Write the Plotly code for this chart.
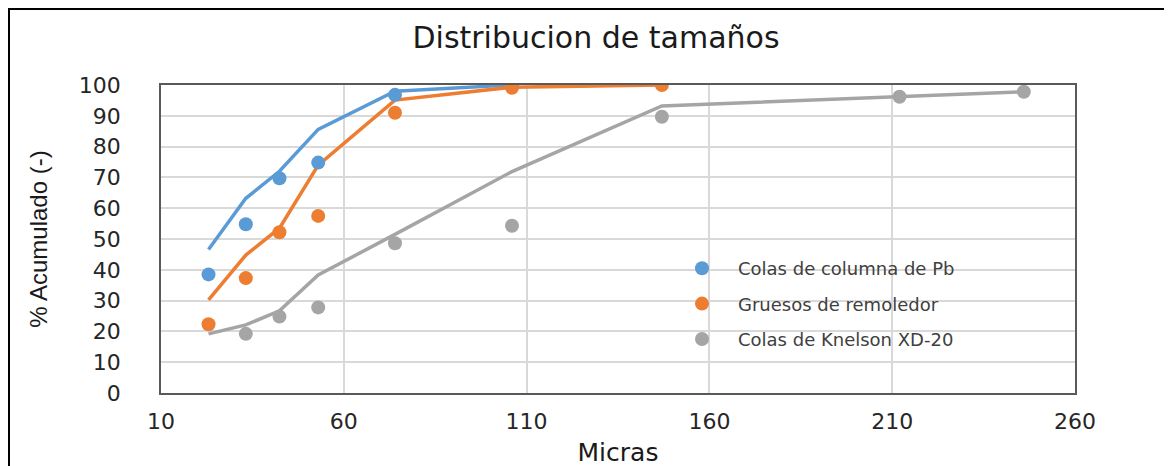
import plotly.graph_objects as go

# Blue: Colas de columna de Pb
pb_x_pts = [23, 33.2, 42.4, 53, 74, 106]
pb_y_pts = [38.5, 54.8, 69.7, 74.8, 96.8, 99.8]
pb_x_line = [23, 33.2, 42.4, 53, 74, 106]
pb_y_line = [46.6, 63.2, 72.0, 85.6, 98.0, 100.0]

# Orange: Gruesos de remoledor
gr_x_pts = [23, 33.2, 42.4, 53, 74, 106, 147]
gr_y_pts = [22.3, 37.3, 52.2, 57.5, 91.0, 99.1, 100.0]
gr_x_line = [23, 33.2, 42.4, 53, 74, 106, 147]
gr_y_line = [30.2, 44.8, 53.5, 74.0, 95.1, 99.3, 100.0]

# Gray: Colas de Knelson XD-20
kn_x_pts = [33.2, 42.4, 53, 74, 106, 147, 212, 246]
kn_y_pts = [19.2, 24.8, 27.8, 48.6, 54.3, 89.7, 96.2, 97.8]
kn_x_line = [23, 33.2, 42.4, 53, 74, 106, 147, 212, 246]
kn_y_line = [19.2, 22.1, 26.7, 38.3, 51.5, 71.9, 93.2, 96.4, 97.8]

names = ["Colas de columna de Pb", "Gruesos de remoledor", "Colas de Knelson XD-20"]
colors = ["#5B9BD5", "#ED7D31", "#A5A5A5"]

x_ticks = [10, 60, 110, 160, 210, 260]
y_ticks = [0, 10, 20, 30, 40, 50, 60, 70, 80, 90, 100]

fig = go.Figure()

lines = [(pb_x_line, pb_y_line), (gr_x_line, gr_y_line), (kn_x_line, kn_y_line)]
pts = [(pb_x_pts, pb_y_pts), (gr_x_pts, gr_y_pts), (kn_x_pts, kn_y_pts)]

for (lx, ly), c in zip(lines, colors):
    fig.add_trace(go.Scatter(x=lx, y=ly, mode="lines", line=dict(color=c, width=3.5),
                             showlegend=False, hoverinfo="skip"))

for i, ((px, py), c, n) in enumerate(zip(pts, colors, names)):
    fig.add_trace(go.Scatter(x=px, y=py, mode="markers", name=n,
                             marker=dict(color=c, size=14), legendgroup=f"g{i}"))

# page offset (body margin) compensation: figure coords = screen coords - 8
OFF = 8
W, H = 1172, 466
L, R, T, B = 161 - OFF, 1075 - OFF, 85 - OFF, 393 - OFF
PW, PH = R - L, B - T

fig.update_layout(
    width=W, height=H,
    margin=dict(l=L, r=W - R, t=T, b=H - B, autoexpand=False),
    paper_bgcolor="white", plot_bgcolor="white",
    font=dict(family="DejaVu Sans", color="#262626"),
    title=dict(text="Distribucion de tamaños", x=(596 - OFF) / W, xanchor="center",
               y=1 - (37 - OFF) / H, yanchor="middle",
               font=dict(family="DejaVu Sans", size=30, color="#1a1a1a")),
    legend=dict(x=(666 - OFF - L) / PW, y=1 - (250 - OFF - T) / PH, xanchor="left", yanchor="top",
                bgcolor="rgba(0,0,0,0)", tracegroupgap=9,
                font=dict(family="DejaVu Sans", size=18, color="#404040"),
                itemwidth=62),
    showlegend=True,
)

fig.update_xaxes(range=[10, 260], tickvals=x_ticks, showgrid=True, gridcolor="#D9D9D9",
                 gridwidth=1.5, zeroline=False, showline=True, linecolor="#595959",
                 linewidth=1.5, mirror=True, ticks="", ticklabelstandoff=8,
                 automargin=False,
                 tickfont=dict(size=22, color="#262626"),
                 title=dict(text="Micras", standoff=10,
                            font=dict(family="DejaVu Sans", size=25, color="#1a1a1a")))
fig.update_yaxes(range=[0, 100], tickvals=y_ticks, showgrid=True, gridcolor="#D9D9D9",
                 gridwidth=1.5, zeroline=False, showline=True, linecolor="#595959",
                 linewidth=1.5, mirror=True, ticks="", ticklabelstandoff=34,
                 automargin=False,
                 tickfont=dict(size=22, color="#262626"),
                 title=dict(text="% Acumulado (-)", standoff=24,
                            font=dict(family="Liberation Sans", size=24, color="#1a1a1a")))

# outer frame (top and left edges of the image border)
fig.add_shape(type="line", xref="paper", yref="paper",
              x0=(0 - L) / PW, x1=(W - L) / PW,
              y0=1 + (T - 0.5) / PH, y1=1 + (T - 0.5) / PH,
              line=dict(color="black", width=3))
fig.add_shape(type="line", xref="paper", yref="paper",
              x0=(0.5 - L) / PW, x1=(0.5 - L) / PW,
              y0=1 + (T - 0) / PH, y1=-(H - B) / PH,
              line=dict(color="black", width=3))

fig.write_html("out.html")
